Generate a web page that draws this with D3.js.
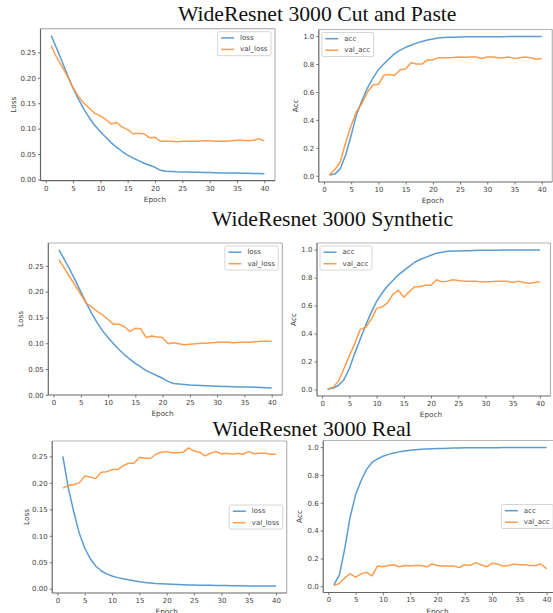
<!DOCTYPE html>
<html>
<head>
<meta charset="utf-8">
<script src="https://cdn.jsdelivr.net/npm/d3@7"></script>
<style>
  body { margin: 0; background: #fff; }
  svg { display: block; }
  .tick text { font-family: "DejaVu Sans", sans-serif; font-size: 7px; fill: #444; }
  .tick line { stroke: #555; stroke-width: 0.8; }
</style>
</head>
<body>
<svg id="fig" width="553" height="613"></svg>
<script>
// epochs on the x axis
var epochs = [1,2,3,4,5,6,7,8,9,10,11,12,13,14,15,16,17,18,19,20,
              21,22,23,24,25,26,27,28,29,30,31,32,33,34,35,36,37,38,39,40];

// Cut and Paste
var cpLoss = [0.283,0.258,0.232,0.205,0.180,0.158,0.138,0.121,0.106,0.094,0.083,0.072,0.063,0.055,0.048,0.042,0.037,0.032,0.028,0.024,
              0.018,0.016,0.0155,0.015,0.0148,0.0145,0.0142,0.014,0.0138,0.0135,0.0133,0.013,0.013,0.0128,0.0126,0.0124,0.0122,0.012,0.0118,0.0112];
var cpValLoss = [0.263,0.240,0.222,0.203,0.180,0.163,0.150,0.140,0.130,0.125,0.118,0.109,0.112,0.103,0.098,0.090,0.091,0.090,0.082,0.083,
                 0.075,0.075,0.075,0.074,0.075,0.075,0.075,0.075,0.076,0.076,0.075,0.075,0.075,0.076,0.077,0.077,0.076,0.077,0.080,0.076];
var cpAcc = [0.005,0.012,0.05,0.15,0.29,0.44,0.54,0.63,0.70,0.76,0.80,0.84,0.875,0.90,0.92,0.935,0.95,0.962,0.972,0.98,
             0.987,0.99,0.992,0.993,0.994,0.995,0.995,0.995,0.995,0.996,0.996,0.996,0.996,0.997,0.997,0.997,0.997,0.998,0.998,0.997];
var cpValAcc = [0.005,0.045,0.10,0.24,0.36,0.46,0.52,0.60,0.65,0.655,0.72,0.725,0.72,0.76,0.765,0.81,0.80,0.80,0.83,0.83,
                0.845,0.845,0.845,0.848,0.85,0.848,0.85,0.85,0.84,0.85,0.85,0.845,0.845,0.85,0.84,0.845,0.85,0.845,0.835,0.84];

// Synthetic
var synLoss = [0.281,0.262,0.243,0.222,0.200,0.178,0.158,0.140,0.124,0.111,0.099,0.088,0.078,0.069,0.061,0.054,0.047,0.042,0.037,0.032,
               0.026,0.022,0.021,0.020,0.019,0.0185,0.018,0.0175,0.017,0.0165,0.016,0.016,0.0155,0.015,0.015,0.015,0.0145,0.014,0.0135,0.013];
var synValLoss = [0.262,0.245,0.228,0.212,0.195,0.178,0.170,0.162,0.155,0.146,0.137,0.137,0.132,0.123,0.129,0.128,0.111,0.114,0.112,0.111,
                  0.099,0.101,0.099,0.097,0.098,0.099,0.100,0.100,0.101,0.102,0.102,0.102,0.101,0.102,0.102,0.102,0.103,0.104,0.104,0.104];
var synAcc = [0.003,0.008,0.03,0.07,0.15,0.26,0.36,0.46,0.55,0.63,0.69,0.74,0.78,0.82,0.85,0.88,0.91,0.93,0.945,0.96,
              0.975,0.982,0.988,0.99,0.99,0.992,0.993,0.994,0.995,0.995,0.996,0.996,0.997,0.997,0.997,0.998,0.998,0.998,0.998,0.998];
var synValAcc = [0.003,0.015,0.06,0.15,0.24,0.33,0.43,0.445,0.50,0.58,0.59,0.62,0.68,0.71,0.66,0.70,0.735,0.735,0.745,0.745,
                 0.785,0.77,0.775,0.785,0.78,0.775,0.775,0.775,0.77,0.77,0.77,0.775,0.775,0.775,0.765,0.775,0.765,0.76,0.765,0.77];

// Real
var realLoss = [0.250,0.190,0.145,0.105,0.077,0.057,0.043,0.034,0.028,0.024,0.021,0.019,0.017,0.015,0.013,0.012,0.011,0.010,0.0095,0.009,
                0.0085,0.008,0.0075,0.007,0.007,0.0068,0.0066,0.0064,0.0062,0.006,0.006,0.0058,0.0056,0.0055,0.0054,0.0053,0.0052,0.0051,0.005,0.005];
var realValLoss = [0.190,0.195,0.197,0.200,0.213,0.211,0.208,0.220,0.221,0.225,0.225,0.232,0.237,0.237,0.248,0.247,0.246,0.254,0.258,0.259,
                   0.257,0.257,0.258,0.266,0.260,0.258,0.251,0.256,0.259,0.255,0.256,0.254,0.256,0.254,0.259,0.255,0.256,0.256,0.254,0.254];
var realAcc = [0.01,0.08,0.27,0.50,0.66,0.76,0.84,0.89,0.915,0.935,0.948,0.958,0.966,0.972,0.977,0.981,0.984,0.987,0.989,0.99,
               0.991,0.992,0.993,0.994,0.995,0.995,0.995,0.996,0.996,0.996,0.996,0.997,0.997,0.997,0.997,0.997,0.997,0.997,0.998,0.997];
var realValAcc = [0.005,0.02,0.06,0.09,0.065,0.09,0.10,0.075,0.145,0.14,0.15,0.155,0.14,0.15,0.145,0.15,0.15,0.14,0.16,0.15,
                  0.145,0.145,0.145,0.135,0.155,0.15,0.17,0.155,0.14,0.165,0.16,0.145,0.15,0.16,0.155,0.155,0.15,0.15,0.16,0.125];

// ticks
var epochTicks = [0,5,10,15,20,25,30,35,40];
var lossTicks = [0,0.05,0.10,0.15,0.20,0.25];
var lossTickLabels = ["0.00","0.05","0.10","0.15","0.20","0.25"];
var accTicks = [0,0.2,0.4,0.6,0.8,1.0];
var accTickLabels = ["0.0","0.2","0.4","0.6","0.8","1.0"];

var titles = ["WideResnet 3000 Cut and Paste","WideResnet 3000 Synthetic","WideResnet 3000 Real"];

var BLUE = "#3d8bc9", ORANGE = "#ff8c2e";

var svg = d3.select("#fig");

// title positions
var titlePos = [{x:317.2,y:20.7},{x:332.5,y:225.5},{x:312,y:435.5}];
svg.selectAll("text.title")
  .data(titles)
  .enter()
  .append("text")
  .attr("class","title")
  .attr("x",function(d,i){return titlePos[i].x;})
  .attr("y",function(d,i){return titlePos[i].y;})
  .attr("text-anchor","middle")
  .style("font-family","'Liberation Serif','Times New Roman',serif")
  .style("font-size","21.7px")
  .style("fill","#111")
  .text(function(d){return d;});

// panel layout (frame boxes in page pixels)
var panels = [
  {x:40.5, y:28.7, w:234.5, h:152,  series:[cpLoss,cpValLoss],   names:["loss","val_loss"], kind:"loss", legend:"ur", ylab:27.2},
  {x:318.8,y:29.5, w:233.5, h:152.5,series:[cpAcc,cpValAcc],     names:["acc","val_acc"],   kind:"acc",  legend:"ul", ylab:23.2},
  {x:48.3, y:243,  w:234,   h:152,  series:[synLoss,synValLoss], names:["loss","val_loss"], kind:"loss", legend:"ur", ylab:27.6},
  {x:317,  y:243,  w:233.5, h:153,  series:[synAcc,synValAcc],   names:["acc","val_acc"],   kind:"acc",  legend:"ul", ylab:23.7},
  {x:52.2, y:441,  w:234.5, h:152,  series:[realLoss,realValLoss],names:["loss","val_loss"],kind:"loss", legend:"cr", ylab:26.2},
  {x:323.2,y:440.5,w:234,   h:152,  series:[realAcc,realValAcc], names:["acc","val_acc"],   kind:"acc",  legend:"cr", ylab:24.2}
];

function pad(ext){
  var m = (ext[1]-ext[0])*0.05;
  return [ext[0]-m, ext[1]+m];
}

panels.forEach(function(p){
  var g = svg.append("g").attr("transform","translate("+p.x+","+p.y+")");

  var x = d3.scaleLinear().domain(pad(d3.extent(epochs))).range([0,p.w]);
  var all = p.series[0].concat(p.series[1]);
  var y = d3.scaleLinear().domain(pad(d3.extent(all))).range([p.h,0]);

  var yt = p.kind=="loss" ? lossTicks : accTicks;
  var ytl = p.kind=="loss" ? lossTickLabels : accTickLabels;

  g.append("g")
    .attr("transform","translate(0,"+p.h+")")
    .call(d3.axisBottom(x).tickValues(epochTicks).tickSize(2.5).tickPadding(2.5).tickFormat(d3.format("d")))
    .call(function(a){a.select(".domain").remove();});

  g.append("g")
    .call(d3.axisLeft(y).tickValues(yt).tickSize(2.5).tickPadding(2).tickFormat(function(d,i){return ytl[i];}))
    .call(function(a){a.select(".domain").remove();});

  // frame
  g.append("line").attr("x1",0).attr("x2",p.w).attr("y1",0).attr("y2",0).attr("stroke","#b5b5b5").attr("stroke-width",1.2);
  g.append("line").attr("x1",p.w).attr("x2",p.w).attr("y1",0).attr("y2",p.h).attr("stroke","#b5b5b5").attr("stroke-width",1.2);
  g.append("line").attr("x1",0).attr("x2",0).attr("y1",0).attr("y2",p.h).attr("stroke","#666").attr("stroke-width",1.2);
  g.append("line").attr("x1",0).attr("x2",p.w).attr("y1",p.h).attr("y2",p.h).attr("stroke","#666").attr("stroke-width",1.2);

  var line = d3.line()
    .x(function(d,i){return x(epochs[i]);})
    .y(function(d){return y(d);});

  g.selectAll("path.series")
    .data(p.series)
    .enter()
    .append("path")
    .attr("class","series")
    .attr("d",line)
    .attr("fill","none")
    .attr("stroke",function(d,i){return i==0?BLUE:ORANGE;})
    .attr("stroke-width",1.5)
    .attr("stroke-opacity",0.85)
    .attr("stroke-linejoin","round");

  // axis labels
  g.append("text")
    .attr("x",p.w/2 - 0.5*(x(41.95)-x(40)) + 0.5*(x(1)-x(0.05)))
    .attr("y",p.h+21)
    .attr("text-anchor","middle")
    .style("font-family","'DejaVu Sans',sans-serif")
    .style("font-size","7.3px")
    .style("fill","#444")
    .text("Epoch");

  g.append("text")
    .attr("transform","translate("+(-p.ylab)+","+(p.h/2)+") rotate(-90)")
    .attr("text-anchor","middle")
    .attr("dominant-baseline","central")
    .style("font-family","'DejaVu Sans',sans-serif")
    .style("font-size","7.3px")
    .style("fill","#444")
    .text(p.kind=="loss"?"Loss":"Acc");

  // legend
  var lg = g.append("g");
  var box = lg.append("rect")
    .attr("rx",1.5)
    .attr("fill","#fff")
    .attr("fill-opacity",0.85)
    .attr("stroke","#ccc")
    .attr("stroke-width",0.8);
  var maxW = 0;
  p.names.forEach(function(n,i){
    var row = lg.append("g").attr("transform","translate(0,"+(6.2+i*11.5)+")");
    row.append("line").attr("x1",3.5).attr("x2",16.5).attr("y1",0).attr("y2",0)
      .attr("stroke",i==0?BLUE:ORANGE).attr("stroke-width",1.5).attr("stroke-opacity",0.85);
    var t = row.append("text").attr("x",22.5).attr("y",0).attr("dominant-baseline","central")
      .style("font-family","'DejaVu Sans',sans-serif").style("font-size","7px").style("fill","#444")
      .text(n);
    maxW = Math.max(maxW, t.node().getComputedTextLength());
  });
  var bw = 22.5 + maxW + 3.5, bh = 24;
  box.attr("width",bw).attr("height",bh);
  var lx, ly;
  if(p.legend=="ur"){ lx = p.w - bw - 4; ly = 3; }
  else if(p.legend=="ul"){ lx = 3; ly = 3; }
  else { lx = p.w - bw - 4; ly = p.h/2 - bh/2; }
  lg.attr("transform","translate("+lx+","+ly+")");
});
</script>
</body>
</html>
